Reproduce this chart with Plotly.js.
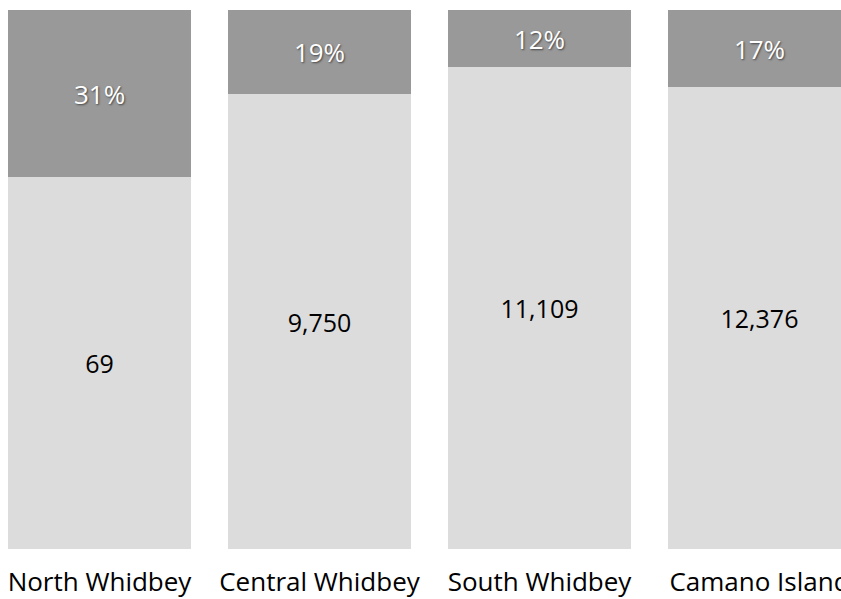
<!DOCTYPE html>
<html>
<head>
<meta charset="utf-8">
<script src="https://cdn.plot.ly/plotly-3.0.1.min.js"></script>
<style>html,body{margin:0;padding:0;background:#fff;}#chart{width:841px;height:599px;}</style>
</head>
<body>
<div id="chart"></div>
<script>
// Categories
var regions = ["North Whidbey", "Central Whidbey", "South Whidbey", "Camano Island"];
// Segment shares (percent of full bar)
var bottomShare = [69.0, 84.4, 89.4, 85.7];
var topShare = [31.0, 15.6, 10.6, 14.3];
// Labels shown in the segments
var bottomLabels = ["69", "9,750", "11,109", "12,376"];
var topLabels = ["31%", "19%", "12%", "17%"];

var FONT = "Open Sans, Noto Sans, sans-serif";

var traces = [
  {
    type: "bar",
    x: regions,
    y: bottomShare,
    text: bottomLabels,
    texttemplate: "%{text}",
    textposition: "inside",
    insidetextanchor: "middle",
    textangle: 0,
    constraintext: "none",
    textfont: {family: FONT, size: 25, color: "#000000"},
    marker: {color: "#dcdcdc", line: {width: 0}},
    hoverinfo: "skip"
  },
  {
    type: "bar",
    x: regions,
    y: topShare,
    text: topLabels,
    texttemplate: "%{text}",
    textposition: "inside",
    insidetextanchor: "middle",
    textangle: 0,
    constraintext: "none",
    textfont: {family: FONT, size: 26, color: "#ffffff", shadow: "1px 1px 2px rgba(0,0,0,0.55)"},
    marker: {color: "#999999", line: {width: 0}},
    hoverinfo: "skip"
  }
];

var layout = {
  width: 841,
  height: 599,
  barmode: "stack",
  bargap: 0.168,
  showlegend: false,
  paper_bgcolor: "#ffffff",
  plot_bgcolor: "#ffffff",
  margin: {l: 0, r: 0, t: 10, b: 50, pad: 0},
  xaxis: {
    type: "category",
    range: [-0.4523, 3.3705],
    showgrid: false,
    zeroline: false,
    showline: false,
    ticks: "",
    ticklabelstandoff: 15,
    tickfont: {family: FONT, size: 26, color: "#000000"},
    automargin: false,
    fixedrange: true
  },
  yaxis: {
    range: [0, 100],
    visible: false,
    showgrid: false,
    zeroline: false,
    fixedrange: true
  }
};

Plotly.newPlot("chart", traces, layout, {displayModeBar: false, staticPlot: true});
</script>
</body>
</html>
